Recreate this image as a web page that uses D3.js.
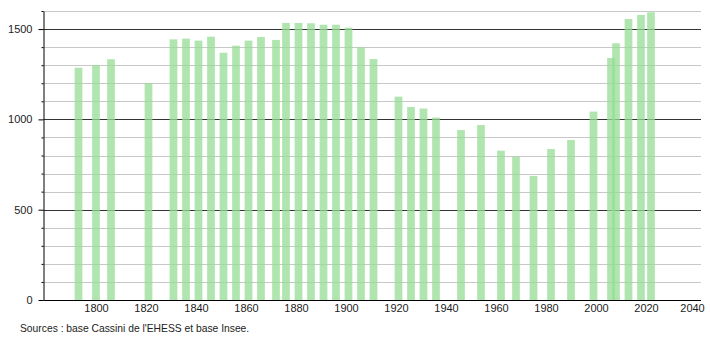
<!DOCTYPE html>
<html>
<head>
<meta charset="utf-8">
<script src="https://d3js.org/d3.v7.min.js"></script>
<style>
  body { margin: 0; background: #fff; }
  text { font-family: "Liberation Sans", Arial, sans-serif; fill: #222; }
</style>
</head>
<body>
<script>
  // recensements
  const years = [1793, 1800, 1806, 1821, 1831, 1836, 1841, 1846, 1851, 1856,
                 1861, 1866, 1872, 1876, 1881, 1886, 1891, 1896, 1901, 1906,
                 1911, 1921, 1926, 1931, 1936, 1946, 1954, 1962, 1968, 1975,
                 1982, 1990, 1999, 2006, 2008, 2013, 2018, 2022]
  const population = [1286, 1301, 1333, 1200, 1443, 1447, 1436, 1458, 1369, 1408,
                      1436, 1456, 1440, 1534, 1534, 1532, 1524, 1524, 1508, 1399,
                      1334, 1126, 1069, 1060, 1010, 941, 969, 827, 794, 687,
                      836, 886, 1043, 1340, 1421, 1556, 1578, 1593]
  const xTicks = [1800, 1820, 1840, 1860, 1880, 1900, 1920, 1940, 1960, 1980, 2000, 2020, 2040]
  const yMajor = [0, 500, 1000, 1500]
  const source = "Sources : base Cassini de l'EHESS et base Insee."

  const width = 710, height = 340
  const margin = {top: 11, right: 9, bottom: 40, left: 43.5}

  const svg = d3.select("body").append("svg")
      .attr("width", width)
      .attr("height", height)

  const x = d3.scaleLinear([1779, 2042], [margin.left, width - margin.right])
  const y = d3.scaleLinear([0, 1600], [height - margin.bottom, margin.top])

  const yMinor = d3.range(100, 1601, 100).filter(v => v % 500 != 0)

  // grille
  svg.append("g")
    .selectAll("line")
    .data(yMinor)
    .join("line")
      .attr("x1", margin.left).attr("x2", width - margin.right)
      .attr("y1", d => Math.round(y(d)) + 0.5).attr("y2", d => Math.round(y(d)) + 0.5)
      .attr("stroke", "#c8c8c8")

  svg.append("g")
    .selectAll("line")
    .data(yMajor.slice(1))
    .join("line")
      .attr("x1", margin.left).attr("x2", width - margin.right)
      .attr("y1", d => Math.round(y(d)) + 0.5).attr("y2", d => Math.round(y(d)) + 0.5)
      .attr("stroke", "#333")

  // barres
  const barW = 3.1
  svg.append("g")
      .attr("fill", "rgb(150,220,150)")
      .attr("fill-opacity", 0.75)
    .selectAll("rect")
    .data(years)
    .join("rect")
      .attr("x", d => x(d - barW / 2))
      .attr("width", x(1800 + barW) - x(1800))
      .attr("y", (d, i) => y(population[i]))
      .attr("height", (d, i) => y(0) - y(population[i]))

  // axe y
  const gy = svg.append("g")
      .attr("transform", `translate(${margin.left},0)`)
  gy.call(d3.axisLeft(y).tickValues(yMinor).tickSize(2).tickFormat(""))
  gy.call(g => g.select(".domain").remove())
  const gy2 = svg.append("g")
      .attr("transform", `translate(${margin.left},0)`)
      .call(d3.axisLeft(y).tickValues(yMajor).tickSize(5).tickSizeOuter(0).tickPadding(6).tickFormat(d3.format("d")))
  gy2.select(".domain").attr("stroke", "#000")
  gy2.selectAll("text").style("font-size", "11px").attr("font-family", null)

  // axe x
  const gx = svg.append("g")
      .attr("transform", `translate(0,${height - margin.bottom + 0.5})`)
      .call(d3.axisBottom(x).tickValues(xTicks).tickSize(0).tickPadding(4).tickFormat(d3.format("d")))
  gx.select(".domain").attr("stroke", "#000").attr("d", `M${margin.left},0H${width - margin.right}`)
  gx.selectAll("text").style("font-size", "11px").attr("font-family", null)
  gx.selectAll(".tick").filter(d => d == 2040).select("text").attr("dx", -4)

  svg.append("text")
      .attr("x", 20)
      .attr("y", 332)
      .style("font-size", "10.3px")
      .text(source)
</script>
</body>
</html>
